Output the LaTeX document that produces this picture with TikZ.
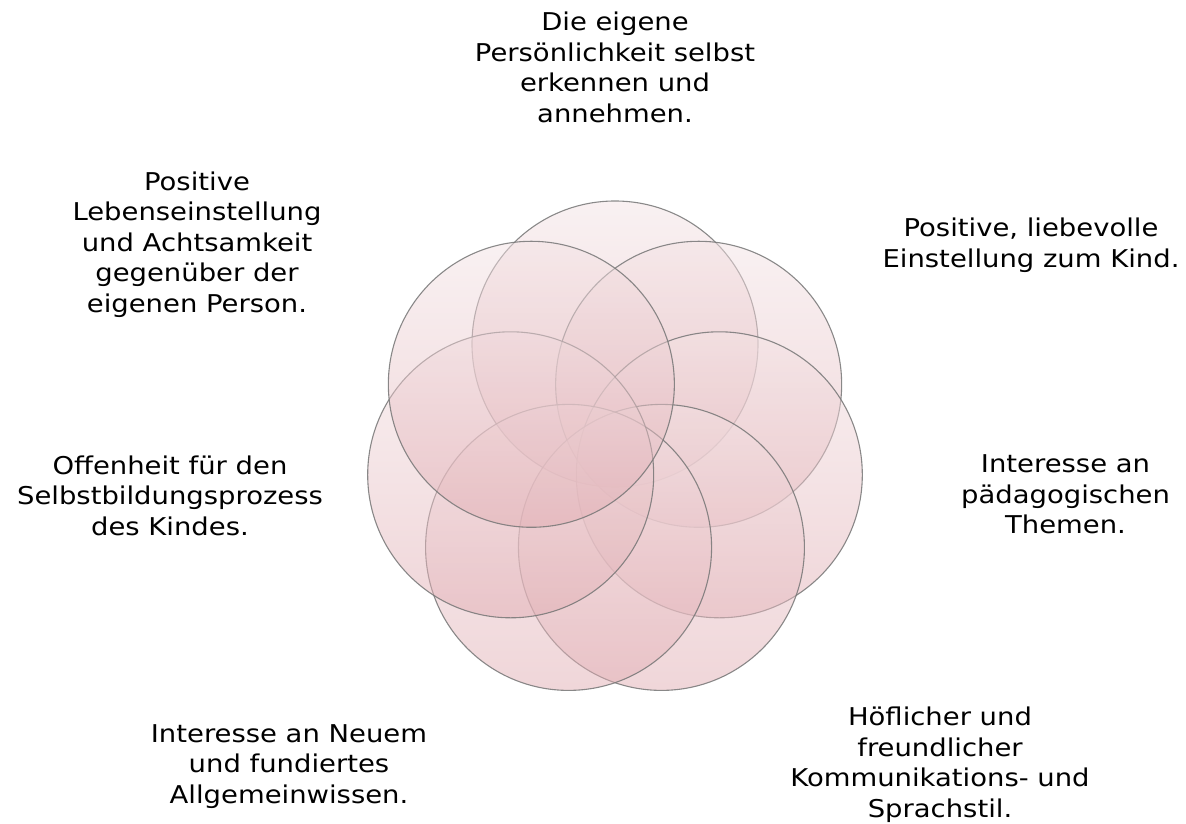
\documentclass[tikz,border=0pt]{standalone}
\usepackage{fontspec}
\newfontfamily\lblfont{DejaVu Sans}[FakeStretch=1.12]
\usetikzlibrary{calc}
\definecolor{ctop}{RGB}{243,227,229}
\definecolor{cbot}{RGB}{225,173,179}
\definecolor{cline}{RGB}{118,118,118}
\tikzset{
  ring/.style={circle, minimum size=286pt, inner sep=0pt, top color=ctop, bottom color=cbot,
    fill opacity=0.5, draw=cline, draw opacity=0.85, line width=1.1pt},
  lbl/.style={font=\lblfont\fontsize{24.5}{30.5}\selectfont, align=center, text=black, inner sep=0pt}
}
\begin{document}
\begin{tikzpicture}[x=1pt,y=1pt]
\useasboundingbox (0,0) rectangle (1186,823);
\coordinate (o) at (615,372);
\node[ring] (c1) at ($(o)+(90:107)$) {};
\node[ring] (c2) at ($(o)+(38.571:107)$) {};
\node[ring] (c3) at ($(o)+(-12.857:107)$) {};
\node[ring] (c4) at ($(o)+(-64.286:107)$) {};
\node[ring] (c5) at ($(o)+(-115.714:107)$) {};
\node[ring] (c6) at ($(o)+(-167.143:107)$) {};
\node[ring] (c7) at ($(o)+(141.429:107)$) {};
\node[lbl] (t1) at (615,755.4) {Die eigene\\Persönlichkeit selbst\\erkennen und\\annehmen.};
\node[lbl] (t2) at (197,578.5) {Positive\\Lebenseinstellung\\und Achtsamkeit\\gegenüber der\\eigenen Person.};
\node[lbl] (t3) at (1031,577.7) {Positive, liebevolle\\Einstellung zum Kind.};
\node[lbl] (t4) at (170,327.3) {Offenheit für den\\Selbstbildungsprozess\\des Kindes.};
\node[lbl] (t5) at (1065.5,328.6) {Interesse an\\pädagogischen\\Themen.};
\node[lbl] (t6) at (289,56.5) {Interesse an Neuem\\und fundiertes\\Allgemeinwissen.};
\node[lbl] (t7) at (940,58.2) {Höflicher und\\freundlicher\\Kommunikations- und\\Sprachstil.};
\end{tikzpicture}
\end{document}
